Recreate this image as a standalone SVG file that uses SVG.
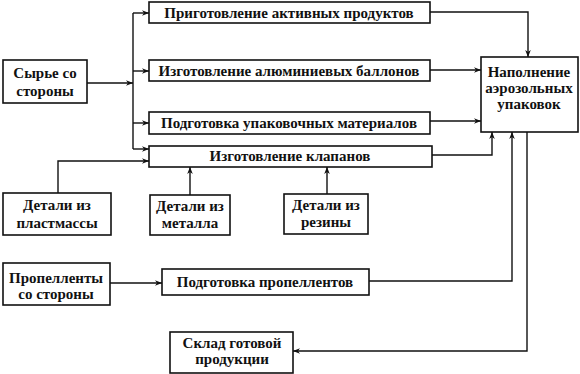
<svg xmlns="http://www.w3.org/2000/svg" width="580" height="374" viewBox="0 0 580 374">
<style>
.box{fill:#fff;stroke:#111;stroke-width:1.6}
.t{font-family:"Liberation Serif","Times New Roman",serif;font-size:15px;font-weight:bold;fill:#111;text-anchor:middle}
.c{fill:none;stroke:#111;stroke-width:1.4}
</style>
<defs>
<marker id="a" viewBox="0 0 10 10" refX="10" refY="5" markerWidth="9" markerHeight="7" markerUnits="userSpaceOnUse" orient="auto">
<path d="M0,1 L10,5 L0,9 L3,5 Z" fill="#111"/>
</marker>
</defs>
<rect width="580" height="374" fill="#fff"/>
<g id="connectors">
<path class="c" d="M87,83 H133" marker-end="url(#a)"/>
<path class="c" d="M133,13 V149"/>
<path class="c" d="M133,13 H149" marker-end="url(#a)"/>
<path class="c" d="M133,71 H149" marker-end="url(#a)"/>
<path class="c" d="M133,123 H149" marker-end="url(#a)"/>
<path class="c" d="M133,149 H149" marker-end="url(#a)"/>
<path class="c" d="M58,193 V161 H149" marker-end="url(#a)"/>
<path class="c" d="M190,195 V167" marker-end="url(#a)"/>
<path class="c" d="M327,194 V167" marker-end="url(#a)"/>
<path class="c" d="M430,12 H528 V57" marker-end="url(#a)"/>
<path class="c" d="M430,70 H481" marker-end="url(#a)"/>
<path class="c" d="M430,121 H481" marker-end="url(#a)"/>
<path class="c" d="M432,155 H492 V132" marker-end="url(#a)"/>
<path class="c" d="M369,281 H512 V132" marker-end="url(#a)"/>
<path class="c" d="M527,132 V351 H293" marker-end="url(#a)"/>
<path class="c" d="M110,283 H162" marker-end="url(#a)"/>
</g>
<g id="n1"><rect class="box" x="3" y="60" width="84" height="43"/><text class="t" x="45" y="78">Сырье со</text><text class="t" x="45" y="96">стороны</text></g>
<g id="n2"><rect class="box" x="149" y="2" width="281" height="21"/><text class="t" x="289" y="18">Приготовление активных продуктов</text></g>
<g id="n3"><rect class="box" x="149" y="60" width="281" height="21"/><text class="t" x="289" y="76">Изготовление алюминиевых баллонов</text></g>
<g id="n4"><rect class="box" x="149" y="112" width="281" height="22"/><text class="t" x="289" y="128">Подготовка упаковочных материалов</text></g>
<g id="n5"><rect class="box" x="149" y="146" width="283" height="21"/><text class="t" x="290" y="161">Изготовление клапанов</text></g>
<g id="n6"><rect class="box" x="481" y="57" width="97" height="75"/><text class="t" x="529" y="77">Наполнение</text><text class="t" x="529" y="93">аэрозольных</text><text class="t" x="529" y="109">упаковок</text></g>
<g id="n7"><rect class="box" x="3" y="193" width="108" height="42"/><text class="t" x="57" y="210">Детали из</text><text class="t" x="57" y="228">пластмассы</text></g>
<g id="n8"><rect class="box" x="150" y="195" width="80" height="40"/><text class="t" x="190" y="211">Детали из</text><text class="t" x="190" y="228">металла</text></g>
<g id="n9"><rect class="box" x="284" y="194" width="84" height="40"/><text class="t" x="326" y="210">Детали из</text><text class="t" x="326" y="227">резины</text></g>
<g id="n10"><rect class="box" x="3" y="263" width="107" height="42"/><text class="t" x="56" y="283">Пропелленты</text><text class="t" x="56" y="299">со стороны</text></g>
<g id="n11"><rect class="box" x="162" y="269" width="207" height="26"/><text class="t" x="265" y="287">Подготовка пропеллентов</text></g>
<g id="n12"><rect class="box" x="170" y="332" width="123" height="41"/><text class="t" x="232" y="348">Склад готовой</text><text class="t" x="232" y="364">продукции</text></g>
</svg>
